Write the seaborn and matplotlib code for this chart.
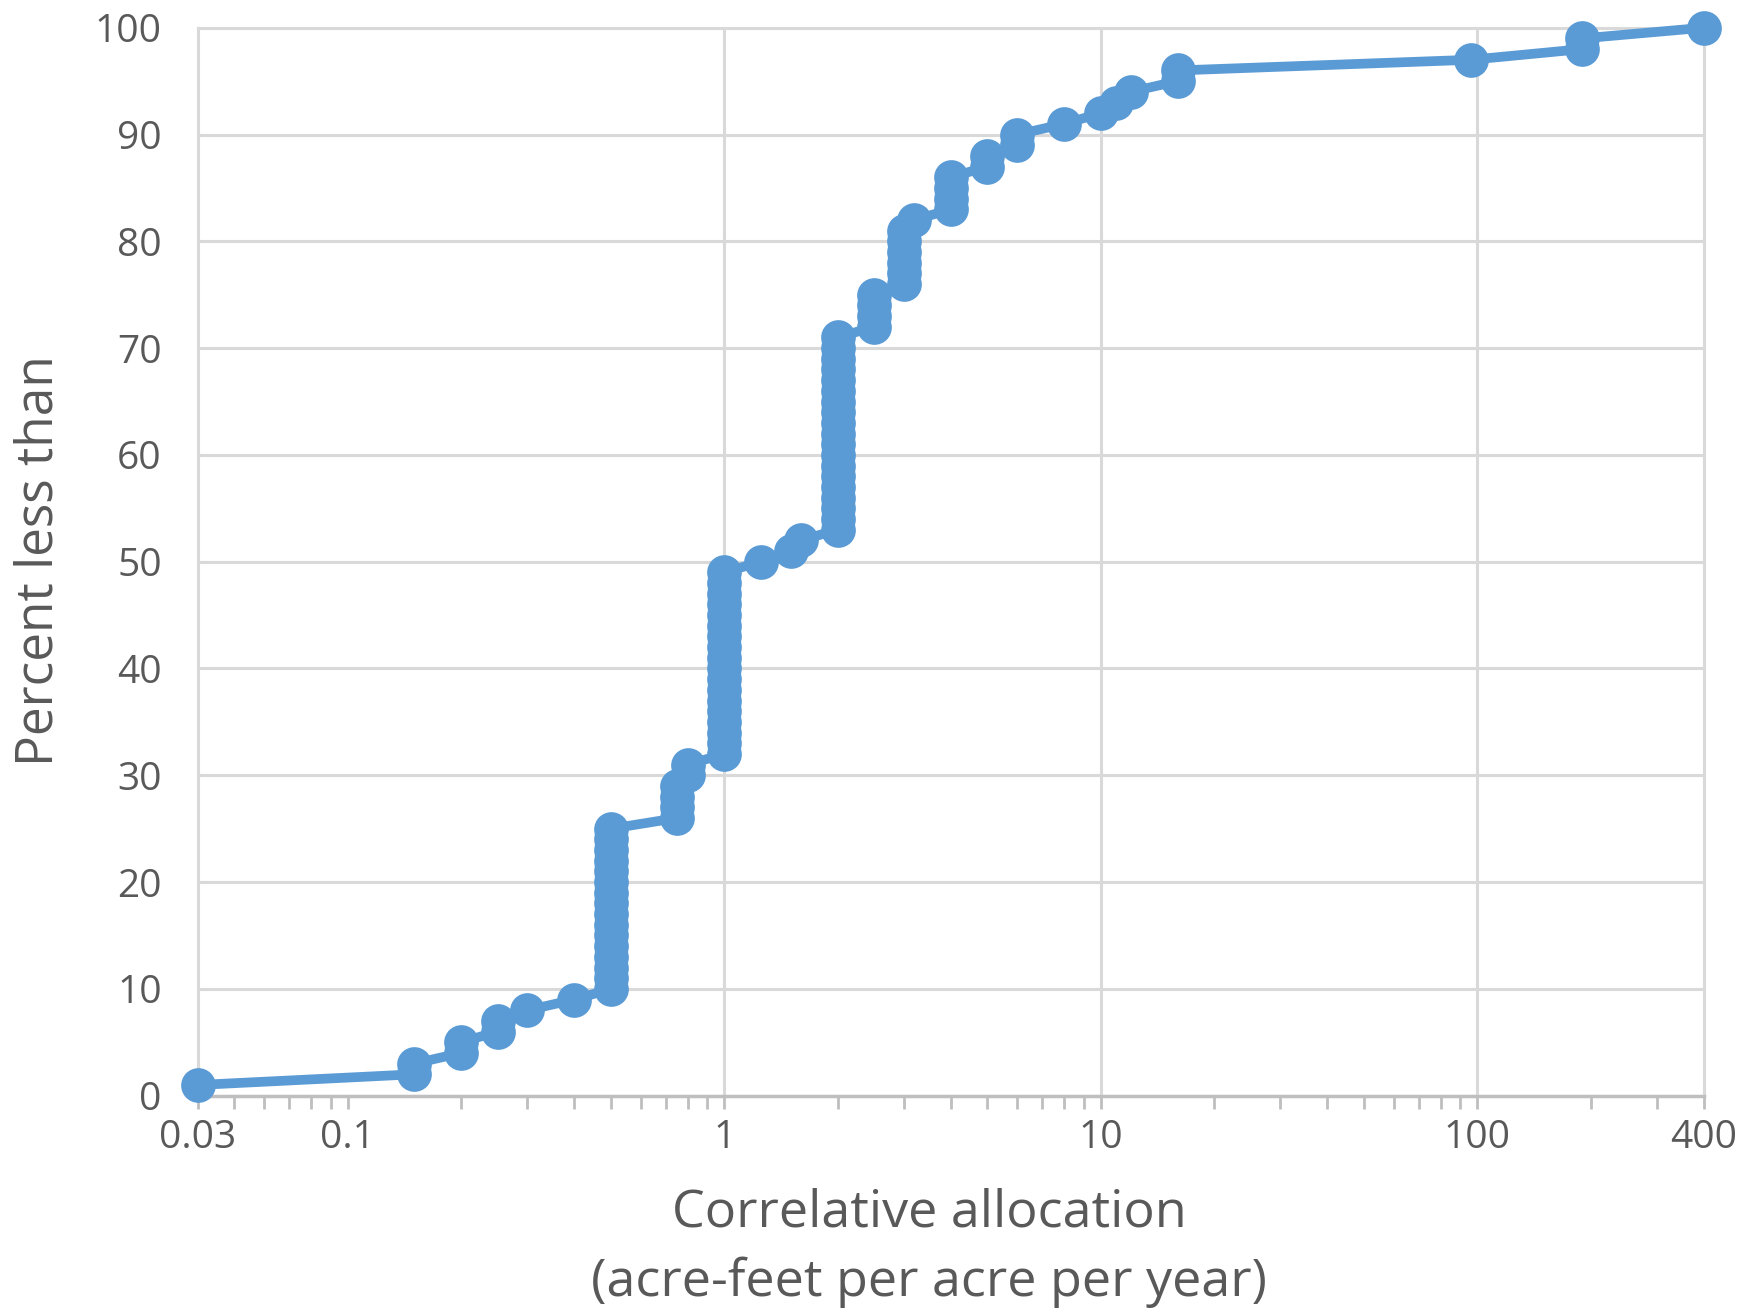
import matplotlib
matplotlib.use("Agg")
import matplotlib.pyplot as plt
import seaborn as sns
import pandas as pd
from matplotlib.ticker import FixedLocator, FixedFormatter, LogLocator, NullFormatter

# --- data (sorted allocations and their cumulative percent) ---
allocation = [
    0.04, 0.15, 0.15, 0.2, 0.2, 0.25, 0.25, 0.3, 0.4,
    0.5, 0.5, 0.5, 0.5, 0.5, 0.5, 0.5, 0.5, 0.5, 0.5, 0.5, 0.5, 0.5, 0.5, 0.5, 0.5,
    0.75, 0.75, 0.75, 0.75, 0.8, 0.8,
    1, 1, 1, 1, 1, 1, 1, 1, 1, 1, 1, 1, 1, 1, 1, 1, 1, 1,
    1.25, 1.5, 1.6,
    2, 2, 2, 2, 2, 2, 2, 2, 2, 2, 2, 2, 2, 2, 2, 2, 2, 2, 2,
    2.5, 2.5, 2.5, 2.5, 3, 3, 3, 3, 3, 3, 3.2,
    4, 4, 4, 4, 5, 5, 6, 6, 8, 10, 11, 12, 16, 16,
    96, 190, 190, 400,
]
percent_less = [
    1, 2, 3, 4, 5, 6, 7, 8, 9,
    10, 11, 12, 13, 14, 15, 16, 17, 18, 19, 20, 21, 22, 23, 24, 25,
    26, 27, 28, 29, 30, 31,
    32, 33, 34, 35, 36, 37, 38, 39, 40, 41, 42, 43, 44, 45, 46, 47, 48, 49,
    50, 51, 52,
    53, 54, 55, 56, 57, 58, 59, 60, 61, 62, 63, 64, 65, 66, 67, 68, 69, 70, 71,
    72, 73, 74, 75, 76, 77, 78, 79, 80, 81, 82,
    83, 84, 85, 86, 87, 88, 89, 90, 91, 92, 93, 94, 95, 96,
    97, 98, 99, 100,
]
x_tick_values = [0.04, 0.1, 1, 10, 100, 400]
x_tick_labels = ['0.03', '0.1', '1', '10', '100', '400']
y_tick_values = [0, 10, 20, 30, 40, 50, 60, 70, 80, 90, 100]

df = pd.DataFrame({'allocation': allocation, 'percent': percent_less})

sns.set_style('white')
plt.rcParams['font.family'] = ['Open Sans', 'DejaVu Sans']

blue = '#5B9BD5'
grid_c = '#d9d9d9'
text_c = '#595959'

fig = plt.figure(figsize=(17.44, 13.15), dpi=100)
ax = fig.add_axes([0.1135, 0.1668, 0.8635, 0.8121])
ax.set_xscale('log')

sns.lineplot(data=df, x='allocation', y='percent', estimator=None, sort=False,
             color=blue, linewidth=7, marker='o', markersize=25,
             markeredgewidth=0, ax=ax, zorder=3, clip_on=False)

ax.set_xlim(0.04, 400)
ax.set_ylim(0, 100)

# gridlines (Excel style: horizontal every 10, vertical only at 1, 10, 100)
ax.yaxis.set_major_locator(FixedLocator(y_tick_values))
ax.yaxis.grid(True, color=grid_c, linewidth=2.2)
ax.xaxis.grid(False)
for v in [1, 10, 100]:
    ax.axvline(v, color=grid_c, linewidth=2.2, zorder=1)

ax.xaxis.set_major_locator(FixedLocator(x_tick_values))
ax.xaxis.set_major_formatter(FixedFormatter(x_tick_labels))
ax.xaxis.set_minor_locator(LogLocator(base=10, subs=range(2, 10)))
ax.xaxis.set_minor_formatter(NullFormatter())

for side in ['left', 'right', 'top']:
    ax.spines[side].set_color(grid_c)
    ax.spines[side].set_linewidth(2.2)
ax.spines['bottom'].set_color('#bfbfbf')
ax.spines['bottom'].set_linewidth(2.5)

ax.tick_params(axis='x', which='both', direction='out', length=9, width=2,
               color='#bfbfbf', bottom=True, labelsize=28, labelcolor=text_c, pad=8)
ax.tick_params(axis='y', which='both', length=0, labelsize=28, labelcolor=text_c, pad=26)

ax.set_xlabel('Correlative allocation\n(acre-feet per acre per year)', fontsize=37.5,
              color=text_c, linespacing=1.45, va='center')
ax.xaxis.set_label_coords(0.5327, 0.051, transform=fig.transFigure)
ax.set_ylabel('Percent less than', fontsize=37, color=text_c, va='center')
ax.yaxis.set_label_coords(0.0224, 0.5734, transform=fig.transFigure)

fig.savefig('out.png', dpi=100, facecolor='white')
